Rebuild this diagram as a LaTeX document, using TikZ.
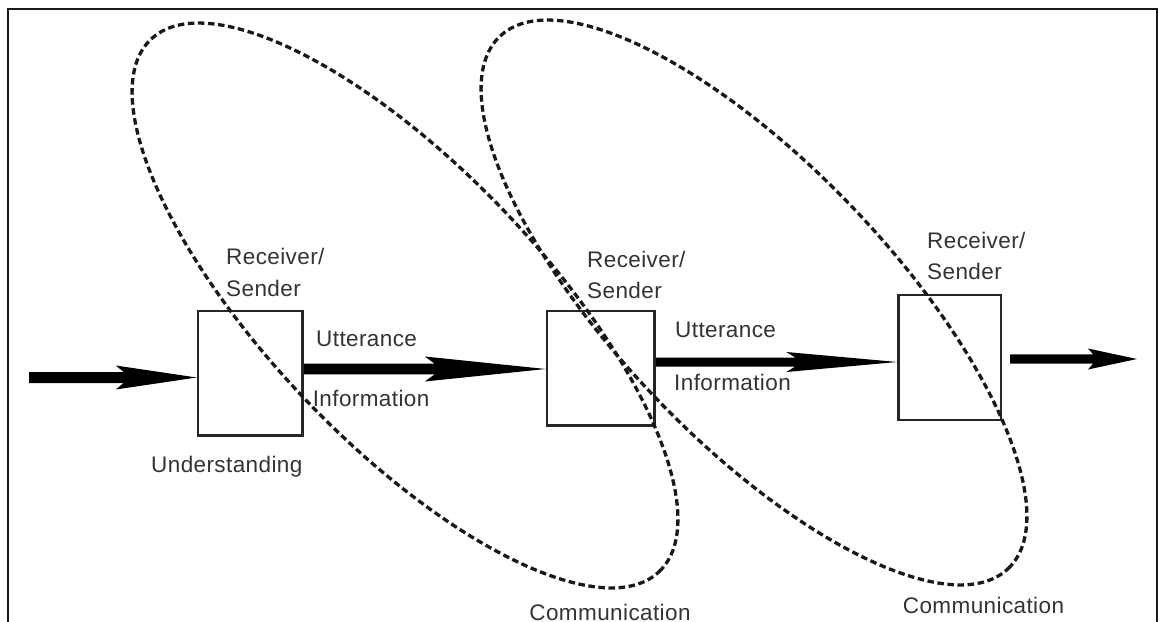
\documentclass[tikz,border=0pt]{standalone}
\usepackage{fontspec}
\setmainfont{Liberation Sans}[LetterSpace=1.8]
\usetikzlibrary{calc}
\newcommand{\fatarrow}[6]{%
  \fill[arrowfill] ($(#1)+(0,#3)$) -- ($(#2)+(-#4+#6,#3)$) -- ($(#2)+(-#4,#5)$) -- (#2)
    -- ($(#2)+(-#4,-#5)$) -- ($(#2)+(-#4+#6,-#3)$) -- ($(#1)+(0,-#3)$) -- cycle;}
\begin{document}
\begin{tikzpicture}[x=1pt,y=-1pt,
  frame/.style={line width=2.6pt, draw=black!90},
  rsbox/.style={draw=black!85, line width=2.5pt, inner sep=0pt},
  lbl/.style={font=\fontsize{22.5}{27}\selectfont, text=black!80, inner sep=0pt, anchor=base west},
  clbl/.style={lbl, anchor=base},
  comm/.style={dash pattern=on 6.5pt off 3.6pt, line width=3.3pt, draw=black!90},
  arrowfill/.style={fill=black},
]
\useasboundingbox (0,0) rectangle (1159,621);
\clip (0,0) rectangle (1159,621);
\fill[white] (0,0) rectangle (1159,621);
\draw[frame] (8,650) -- (8,9) -- (1157,9) -- (1157,650);

% boxes
\node[rsbox, minimum width=104.6pt, minimum height=124.6pt] (b1) at (250.3,373.3) {};
\node[rsbox, minimum width=107.5pt, minimum height=114.5pt] (b2) at (600.75,368.25) {};
\node[rsbox, minimum width=102.5pt, minimum height=125pt] (b3) at (949.75,357.5) {};

% ellipses
\coordinate (e1) at (405,305.5);
\coordinate (e2) at (754,302.5);
\draw[comm, rotate around={-46.3:(e1)}] (e1) ellipse [x radius=368pt, y radius=137pt];
\draw[comm, rotate around={-46.3:(e2)}] (e2) ellipse [x radius=368pt, y radius=137pt];

% arrows
\coordinate (a0s) at (29,377.5);
\coordinate (a0e) at (b1.west |- a0s);
\coordinate (y1) at (0,369);
\coordinate (a1s) at (b1.east |- y1);
\coordinate (a1e) at (b2.west |- y1);
\coordinate (y2) at (0,362);
\coordinate (a2s) at (b2.east |- y2);
\coordinate (a2e) at (b3.west |- y2);
\coordinate (a3s) at (1010,359);
\coordinate (a3e) at (1137,359);
\fatarrow{a0s}{a0e}{5.5}{81}{12}{8}
\fatarrow{a1s}{a1e}{5.3}{121}{12.5}{10}
\fatarrow{a2s}{a2e}{4.5}{111}{10}{9}
\fatarrow{a3s}{a3e}{4.7}{49}{10.5}{5}

% labels
\node[lbl] (r1) at (226,264.5) {Receiver/};
\node[lbl] (s1) at (226,296) {Sender};
\node[lbl] (r2) at (587,267) {Receiver/};
\node[lbl] (s2) at (587,298) {Sender};
\node[lbl] (r3) at (927,248.7) {Receiver/};
\node[lbl] (s3) at (927,279) {Sender};
\node[lbl] (u1) at (316,346.5) {Utterance};
\node[lbl] (i1) at (312.6,406.7) {Information};
\node[lbl] (u2) at (675,337.4) {Utterance};
\node[lbl] (i2) at (674,390) {Information};
\node[lbl] (und) at (151,472) {Understanding};
\node[clbl] (c1) at (610,620) {Communication};
\node[clbl] (c2) at (983.5,613.5) {Communication};
\end{tikzpicture}
\end{document}
